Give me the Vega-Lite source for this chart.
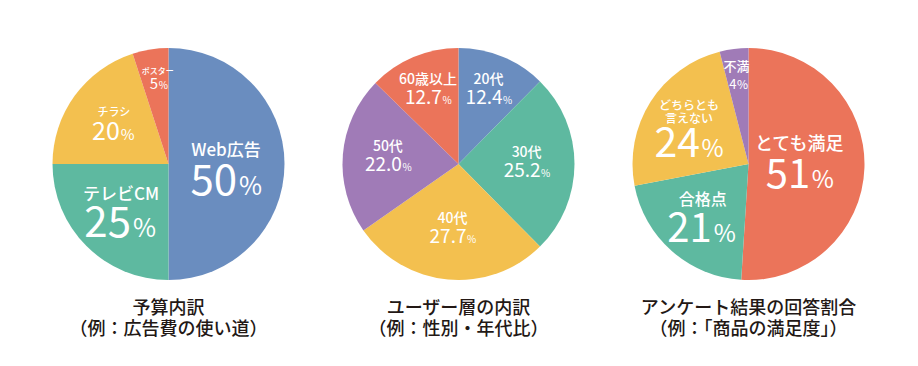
{
  "$schema": "https://vega.github.io/schema/vega-lite/v6.json",
  "padding": {"left": 23.5, "top": 34, "right": 0, "bottom": 0},
  "background": "white",
  "spacing": 0,
  "config": {
    "view": {"stroke": null},
    "font": "Noto Sans CJK JP",
    "text": {"color": "white", "font": "Noto Sans CJK JP", "fontWeight": "normal"},
    "title": {"orient": "bottom", "anchor": "middle", "fontSize": 18, "fontWeight": 500, "lineHeight": 21, "offset": 6, "color": "#231815", "font": "Noto Sans CJK JP"}
  },
  "datasets": {
    "p1": [
      {"i": 0, "name": "Web広告", "v": 50},
      {"i": 1, "name": "テレビCM", "v": 25},
      {"i": 2, "name": "チラシ", "v": 20},
      {"i": 3, "name": "ポスター", "v": 5}
    ],
    "p2": [
      {"i": 0, "name": "20代", "v": 12.4},
      {"i": 1, "name": "30代", "v": 25.2},
      {"i": 2, "name": "40代", "v": 27.7},
      {"i": 3, "name": "50代", "v": 22.0},
      {"i": 4, "name": "60歳以上", "v": 12.7}
    ],
    "p3": [
      {"i": 0, "name": "とても満足", "v": 51},
      {"i": 1, "name": "合格点", "v": 21},
      {"i": 2, "name": "どちらとも\n言えない", "v": 24},
      {"i": 3, "name": "不満", "v": 4}
    ]
  },
  "resolve": {"scale": {"theta": "independent", "color": "independent", "radius": "independent"}},
  "hconcat": [
    {
      "width": 290, "height": 260,
      "data": {"name": "p1"},
      "title": {"text": ["予算内訳", "（例：広告費の使い道）"]},
      "layer": [
        {"mark": {"type": "arc", "outerRadius": 116},
         "encoding": {"theta": {"field": "v", "type": "quantitative", "stack": true}, "order": {"field": "i", "type": "quantitative"},
           "color": {"field": "name", "type": "nominal", "legend": null, "scale": {"domain": ["Web広告", "テレビCM", "チラシ", "ポスター"], "range": ["#6A8DBF", "#5EB9A0", "#F3C04F", "#EB745A"]}}}},
        {"mark": {"type": "text", "radius": 57.5, "fontSize": 17, "fontWeight": 500, "dy": -13, "baseline": "middle"},
         "encoding": {"theta": {"field": "v", "type": "quantitative", "stack": true}, "order": {"field": "i", "type": "quantitative"}, "text": {"condition": {"test": "datum.i==0", "field": "name"}, "value": ""}}},
        {"mark": {"type": "text", "radius": 57.5, "fontSize": 42, "dy": 31, "dx": 11, "align": "right", "baseline": "alphabetic"},
         "encoding": {"theta": {"field": "v", "type": "quantitative", "stack": true}, "order": {"field": "i", "type": "quantitative"}, "text": {"condition": {"test": "datum.i==0", "field": "v", "type": "quantitative", "format": "d"}, "value": ""}}},
        {"mark": {"type": "text", "radius": 57.5, "fontSize": 25, "dy": 31, "dx": 13, "align": "left", "baseline": "alphabetic"},
         "encoding": {"theta": {"field": "v", "type": "quantitative", "stack": true}, "order": {"field": "i", "type": "quantitative"}, "text": {"condition": {"test": "datum.i==0", "value": "%"}, "value": ""}}},
        {"mark": {"type": "text", "radius": 67.2, "fontSize": 17, "fontWeight": 500, "dy": -16.5, "baseline": "middle"},
         "encoding": {"theta": {"field": "v", "type": "quantitative", "stack": true}, "order": {"field": "i", "type": "quantitative"}, "text": {"condition": {"test": "datum.i==1", "field": "name"}, "value": ""}}},
        {"mark": {"type": "text", "radius": 67.2, "fontSize": 42, "dy": 25.5, "dx": 10, "align": "right", "baseline": "alphabetic"},
         "encoding": {"theta": {"field": "v", "type": "quantitative", "stack": true}, "order": {"field": "i", "type": "quantitative"}, "text": {"condition": {"test": "datum.i==1", "field": "v", "type": "quantitative", "format": "d"}, "value": ""}}},
        {"mark": {"type": "text", "radius": 67.2, "fontSize": 25, "dy": 25.5, "dx": 12, "align": "left", "baseline": "alphabetic"},
         "encoding": {"theta": {"field": "v", "type": "quantitative", "stack": true}, "order": {"field": "i", "type": "quantitative"}, "text": {"condition": {"test": "datum.i==1", "value": "%"}, "value": ""}}},
        {"mark": {"type": "text", "radius": 67.6, "fontSize": 11, "fontWeight": 500, "dy": -11, "baseline": "middle"},
         "encoding": {"theta": {"field": "v", "type": "quantitative", "stack": true}, "order": {"field": "i", "type": "quantitative"}, "text": {"condition": {"test": "datum.i==2", "field": "name"}, "value": ""}}},
        {"mark": {"type": "text", "radius": 67.6, "fontSize": 25, "dy": 16, "dx": 6, "align": "right", "baseline": "alphabetic"},
         "encoding": {"theta": {"field": "v", "type": "quantitative", "stack": true}, "order": {"field": "i", "type": "quantitative"}, "text": {"condition": {"test": "datum.i==2", "field": "v", "type": "quantitative", "format": "d"}, "value": ""}}},
        {"mark": {"type": "text", "radius": 67.6, "fontSize": 15, "dy": 16, "dx": 7, "align": "left", "baseline": "alphabetic"},
         "encoding": {"theta": {"field": "v", "type": "quantitative", "stack": true}, "order": {"field": "i", "type": "quantitative"}, "text": {"condition": {"test": "datum.i==2", "value": "%"}, "value": ""}}},
        {"mark": {"type": "text", "radius": 85, "fontSize": 8, "fontWeight": 500, "dy": -8, "dx": 2.5, "baseline": "middle"},
         "encoding": {"theta": {"field": "v", "type": "quantitative", "stack": true}, "order": {"field": "i", "type": "quantitative"}, "text": {"condition": {"test": "datum.i==3", "field": "name"}, "value": ""}}},
        {"mark": {"type": "text", "radius": 85, "fontSize": 15, "dy": 8.5, "dx": 3, "align": "right", "baseline": "alphabetic"},
         "encoding": {"theta": {"field": "v", "type": "quantitative", "stack": true}, "order": {"field": "i", "type": "quantitative"}, "text": {"condition": {"test": "datum.i==3", "field": "v", "type": "quantitative", "format": "d"}, "value": ""}}},
        {"mark": {"type": "text", "radius": 85, "fontSize": 10, "dy": 8.5, "dx": 3.5, "align": "left", "baseline": "alphabetic"},
         "encoding": {"theta": {"field": "v", "type": "quantitative", "stack": true}, "order": {"field": "i", "type": "quantitative"}, "text": {"condition": {"test": "datum.i==3", "value": "%"}, "value": ""}}}
      ]
    },
    {
      "width": 290, "height": 260,
      "data": {"name": "p2"},
      "title": {"text": ["ユーザー層の内訳", "（例：性別・年代比）"]},
      "layer": [
        {"mark": {"type": "arc", "outerRadius": 116},
         "encoding": {"theta": {"field": "v", "type": "quantitative", "stack": true}, "order": {"field": "i", "type": "quantitative"},
           "color": {"field": "name", "type": "nominal", "legend": null, "scale": {"domain": ["20代", "30代", "40代", "50代", "60歳以上"], "range": ["#6A8DBF", "#5EB9A0", "#F3C04F", "#A07BB7", "#EB745A"]}}}},
        {"mark": {"type": "text", "fontSize": 14, "fontWeight": 500, "dy": -11, "baseline": "middle"},
         "encoding": {"theta": {"field": "v", "type": "quantitative", "stack": true}, "order": {"field": "i", "type": "quantitative"},
           "radius": {"field": "v", "type": "quantitative", "scale": {"type": "linear", "domain": [12.4, 27.7], "range": [79, 66]}},
           "text": {"field": "name"}}},
        {"mark": {"type": "text", "fontSize": 19, "dy": 13, "dx": 14, "align": "right", "baseline": "alphabetic"},
         "encoding": {"theta": {"field": "v", "type": "quantitative", "stack": true}, "order": {"field": "i", "type": "quantitative"},
           "radius": {"field": "v", "type": "quantitative", "scale": {"type": "linear", "domain": [12.4, 27.7], "range": [79, 66]}},
           "text": {"field": "v", "type": "quantitative", "format": ".1f"}}},
        {"mark": {"type": "text", "fontSize": 10, "dy": 13, "dx": 14.5, "align": "left", "baseline": "alphabetic"},
         "encoding": {"theta": {"field": "v", "type": "quantitative", "stack": true}, "order": {"field": "i", "type": "quantitative"},
           "radius": {"field": "v", "type": "quantitative", "scale": {"type": "linear", "domain": [12.4, 27.7], "range": [79, 66]}},
           "text": {"value": "%"}}}
      ]
    },
    {
      "width": 290, "height": 260,
      "data": {"name": "p3"},
      "title": {"text": ["アンケート結果の回答割合", "（例：「商品の満足度」）"]},
      "layer": [
        {"mark": {"type": "arc", "outerRadius": 116},
         "encoding": {"theta": {"field": "v", "type": "quantitative", "stack": true}, "order": {"field": "i", "type": "quantitative"},
           "color": {"field": "i", "type": "nominal", "legend": null, "scale": {"domain": [0, 1, 2, 3], "range": ["#EB745A", "#5EB9A0", "#F3C04F", "#A07BB7"]}}}},
        {"mark": {"type": "text", "radius": 50.7, "fontSize": 18, "fontWeight": 500, "dy": -20.6, "baseline": "middle"},
         "encoding": {"theta": {"field": "v", "type": "quantitative", "stack": true}, "order": {"field": "i", "type": "quantitative"}, "text": {"condition": {"test": "datum.i==0", "field": "name"}, "value": ""}}},
        {"mark": {"type": "text", "radius": 50.7, "fontSize": 40, "dy": 22.7, "dx": 11, "align": "right", "baseline": "alphabetic"},
         "encoding": {"theta": {"field": "v", "type": "quantitative", "stack": true}, "order": {"field": "i", "type": "quantitative"}, "text": {"condition": {"test": "datum.i==0", "field": "v", "type": "quantitative", "format": "d"}, "value": ""}}},
        {"mark": {"type": "text", "radius": 50.7, "fontSize": 24, "dy": 22.7, "dx": 12.5, "align": "left", "baseline": "alphabetic"},
         "encoding": {"theta": {"field": "v", "type": "quantitative", "stack": true}, "order": {"field": "i", "type": "quantitative"}, "text": {"condition": {"test": "datum.i==0", "value": "%"}, "value": ""}}},
        {"mark": {"type": "text", "radius": 70.8, "fontSize": 16, "fontWeight": 500, "dy": -17, "dx": 1, "baseline": "middle"},
         "encoding": {"theta": {"field": "v", "type": "quantitative", "stack": true}, "order": {"field": "i", "type": "quantitative"}, "text": {"condition": {"test": "datum.i==1", "field": "name"}, "value": ""}}},
        {"mark": {"type": "text", "radius": 70.8, "fontSize": 40, "dy": 24.6, "dx": 10, "align": "right", "baseline": "alphabetic"},
         "encoding": {"theta": {"field": "v", "type": "quantitative", "stack": true}, "order": {"field": "i", "type": "quantitative"}, "text": {"condition": {"test": "datum.i==1", "field": "v", "type": "quantitative", "format": "d"}, "value": ""}}},
        {"mark": {"type": "text", "radius": 70.8, "fontSize": 24, "dy": 24.6, "dx": 12, "align": "left", "baseline": "alphabetic"},
         "encoding": {"theta": {"field": "v", "type": "quantitative", "stack": true}, "order": {"field": "i", "type": "quantitative"}, "text": {"condition": {"test": "datum.i==1", "value": "%"}, "value": ""}}},
        {"mark": {"type": "text", "radius": 70.5, "fontSize": 12, "fontWeight": 500, "lineHeight": 12.5, "lineBreak": "\n", "dy": -20, "baseline": "middle"},
         "encoding": {"theta": {"field": "v", "type": "quantitative", "stack": true}, "order": {"field": "i", "type": "quantitative"}, "text": {"condition": {"test": "datum.i==2", "field": "name"}, "value": ""}}},
        {"mark": {"type": "text", "radius": 70.5, "fontSize": 41, "dy": 30.5, "dx": 11, "align": "right", "baseline": "alphabetic"},
         "encoding": {"theta": {"field": "v", "type": "quantitative", "stack": true}, "order": {"field": "i", "type": "quantitative"}, "text": {"condition": {"test": "datum.i==2", "field": "v", "type": "quantitative", "format": "d"}, "value": ""}}},
        {"mark": {"type": "text", "radius": 70.5, "fontSize": 24, "dy": 30.5, "dx": 12.5, "align": "left", "baseline": "alphabetic"},
         "encoding": {"theta": {"field": "v", "type": "quantitative", "stack": true}, "order": {"field": "i", "type": "quantitative"}, "text": {"condition": {"test": "datum.i==2", "value": "%"}, "value": ""}}},
        {"mark": {"type": "text", "radius": 88, "fontSize": 13, "fontWeight": 500, "dy": -9.2, "dx": -1, "baseline": "middle"},
         "encoding": {"theta": {"field": "v", "type": "quantitative", "stack": true}, "order": {"field": "i", "type": "quantitative"}, "text": {"condition": {"test": "datum.i==3", "field": "name"}, "value": ""}}},
        {"mark": {"type": "text", "radius": 88, "fontSize": 13, "dy": 12.6, "dx": -1, "align": "right", "baseline": "alphabetic"},
         "encoding": {"theta": {"field": "v", "type": "quantitative", "stack": true}, "order": {"field": "i", "type": "quantitative"}, "text": {"condition": {"test": "datum.i==3", "field": "v", "type": "quantitative", "format": "d"}, "value": ""}}},
        {"mark": {"type": "text", "radius": 88, "fontSize": 12, "dy": 12.6, "dx": -0.5, "align": "left", "baseline": "alphabetic"},
         "encoding": {"theta": {"field": "v", "type": "quantitative", "stack": true}, "order": {"field": "i", "type": "quantitative"}, "text": {"condition": {"test": "datum.i==3", "value": "%"}, "value": ""}}}
      ]
    }
  ]
}
